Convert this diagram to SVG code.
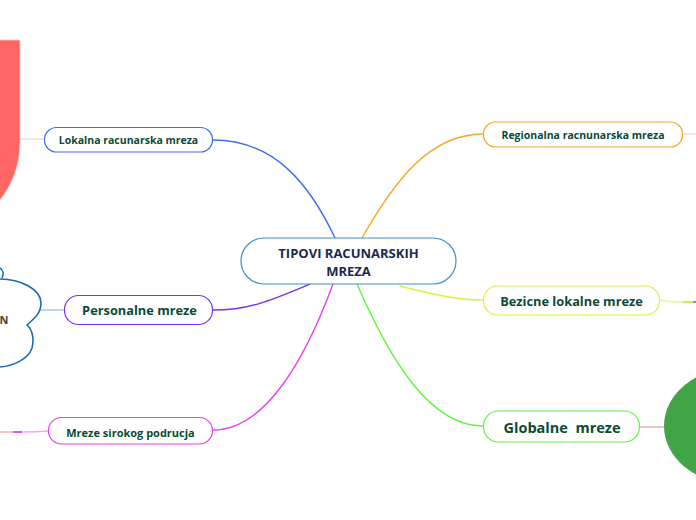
<svg xmlns="http://www.w3.org/2000/svg" width="696" height="520" viewBox="0 0 696 520">
<style>
.box{fill:#fff;stroke-width:1.2}
.t{font-family:"Open Sans","Noto Sans","Liberation Sans",sans-serif;font-weight:bold;fill:#0c4a38;text-anchor:middle}
.c{fill:none;stroke-linecap:round}
</style>
<rect width="696" height="520" fill="#fff"/>
<g id="connectors">
<path class="c" d="M213,140 C275,140 310,185 335,238" stroke="#3a6ff7" stroke-width="1.4"/>
<path class="c" d="M362,238 C395,180 430,134 483,134" stroke="#f5a623" stroke-width="1.4"/>
<path class="c" d="M310,284 C272,300 250,310 213,310" stroke="#7b2ff7" stroke-width="1.4"/>
<path class="c" d="M333,284 C305,360 265,430 213,430" stroke="#e83fef" stroke-width="1.4"/>
<path class="c" d="M400,286 C440,296 460,300 483,300" stroke="#d4f53c" stroke-width="1.4"/>
<path class="c" d="M357,284 C390,360 430,426 483,426" stroke="#5ef53c" stroke-width="1.4"/>
<path class="c" d="M20,139 L44,139" stroke="#f8c4c4" stroke-width="1.2"/>
<path class="c" d="M41,310 L64,310" stroke="#a8c8f4" stroke-width="1.4"/>
<path class="c" d="M48,431 C35,432 25,432 22,432" stroke="#f0a8f4" stroke-width="1.3"/>
<path d="M22,432 L13,432" stroke="#e040e8" stroke-width="1.8"/>
<path d="M13,432 L0,432" stroke="#e8b8b8" stroke-width="1.5"/>
<path class="c" d="M683,134 L696,134" stroke="#f8c4c4" stroke-width="1.2"/>
<path d="M660,300 C670,302 676,302 683,302 L693,302" stroke="#e4f8a0" stroke-width="1.4" fill="none"/>
<path d="M683,302 L693,302" stroke="#c8f030" stroke-width="1.8"/>
<path d="M693,302 L696,302" stroke="#6080f0" stroke-width="1.8"/>
<path class="c" d="M640,427 L664,427" stroke="#d88a8a" stroke-width="1.2"/>
</g>
<g id="red-shape">
<path d="M-2,40 L20,40 L20,143 C20,165 12,185 0,200 L-2,200 Z" fill="#ff6663" stroke="#ffd0d0" stroke-width="0.8"/>
</g>
<g id="cloud-node">
<path d="M0,279 C20,279 41,289 41,303 C41,313 35,318 27,325 C33,330 34,340 32,348 C28,360 12,366 0,367" fill="#fff" stroke="#1a6bb5" stroke-width="1.6"/>
<path d="M0,268 C3,270 4,274 2,278" fill="none" stroke="#1a6bb5" stroke-width="1.6"/>
<text x="4" y="324" class="t" style="fill:#444;font-size:11px">N</text>
</g>
<g id="green-ellipse">
<ellipse cx="735" cy="426" rx="71" ry="58" fill="#41a447"/>
</g>
<g id="center">
<rect class="box" x="241" y="238" width="215" height="46" rx="23" stroke="#3d8fd0"/>
<text x="348.5" y="257.5" class="t" style="fill:#1b2a50;font-size:13px">TIPOVI RACUNARSKIH</text>
<text x="348.5" y="275.5" class="t" style="fill:#1b2a50;font-size:13px">MREZA</text>
</g>
<g id="lokalna">
<rect class="box" x="44.5" y="127.5" width="168" height="24.5" rx="12" stroke="#3a6ff7"/>
<text x="128.5" y="143.8" class="t" style="font-size:10.5px">Lokalna racunarska mreza</text>
</g>
<g id="personalne">
<rect class="box" x="64.5" y="295.5" width="148" height="29" rx="14" stroke="#7b2ff7"/>
<text x="139.5" y="314.8" class="t" style="font-size:12.8px">Personalne mreze</text>
</g>
<g id="sirokog">
<rect class="box" x="48.5" y="417.5" width="164" height="26.5" rx="13" stroke="#e83fef"/>
<text x="130.5" y="436.5" class="t" style="font-size:11px">Mreze sirokog podrucja</text>
</g>
<g id="regionalna">
<rect class="box" x="483.5" y="122" width="199" height="25" rx="12" stroke="#f5a623"/>
<text x="583" y="138.5" class="t" style="font-size:10.5px">Regionalna racnunarska mreza</text>
</g>
<g id="bezicne">
<rect class="box" x="483.5" y="286" width="176" height="29" rx="14" stroke="#d4f53c"/>
<text x="571.5" y="305.8" class="t" style="font-size:12.8px">Bezicne lokalne mreze</text>
</g>
<g id="globalne">
<rect class="box" x="483.5" y="411" width="156" height="31" rx="15" stroke="#5ef53c"/>
<text x="562" y="432.5" class="t" style="font-size:14.5px" xml:space="preserve">Globalne  mreze</text>
</g>
</svg>
